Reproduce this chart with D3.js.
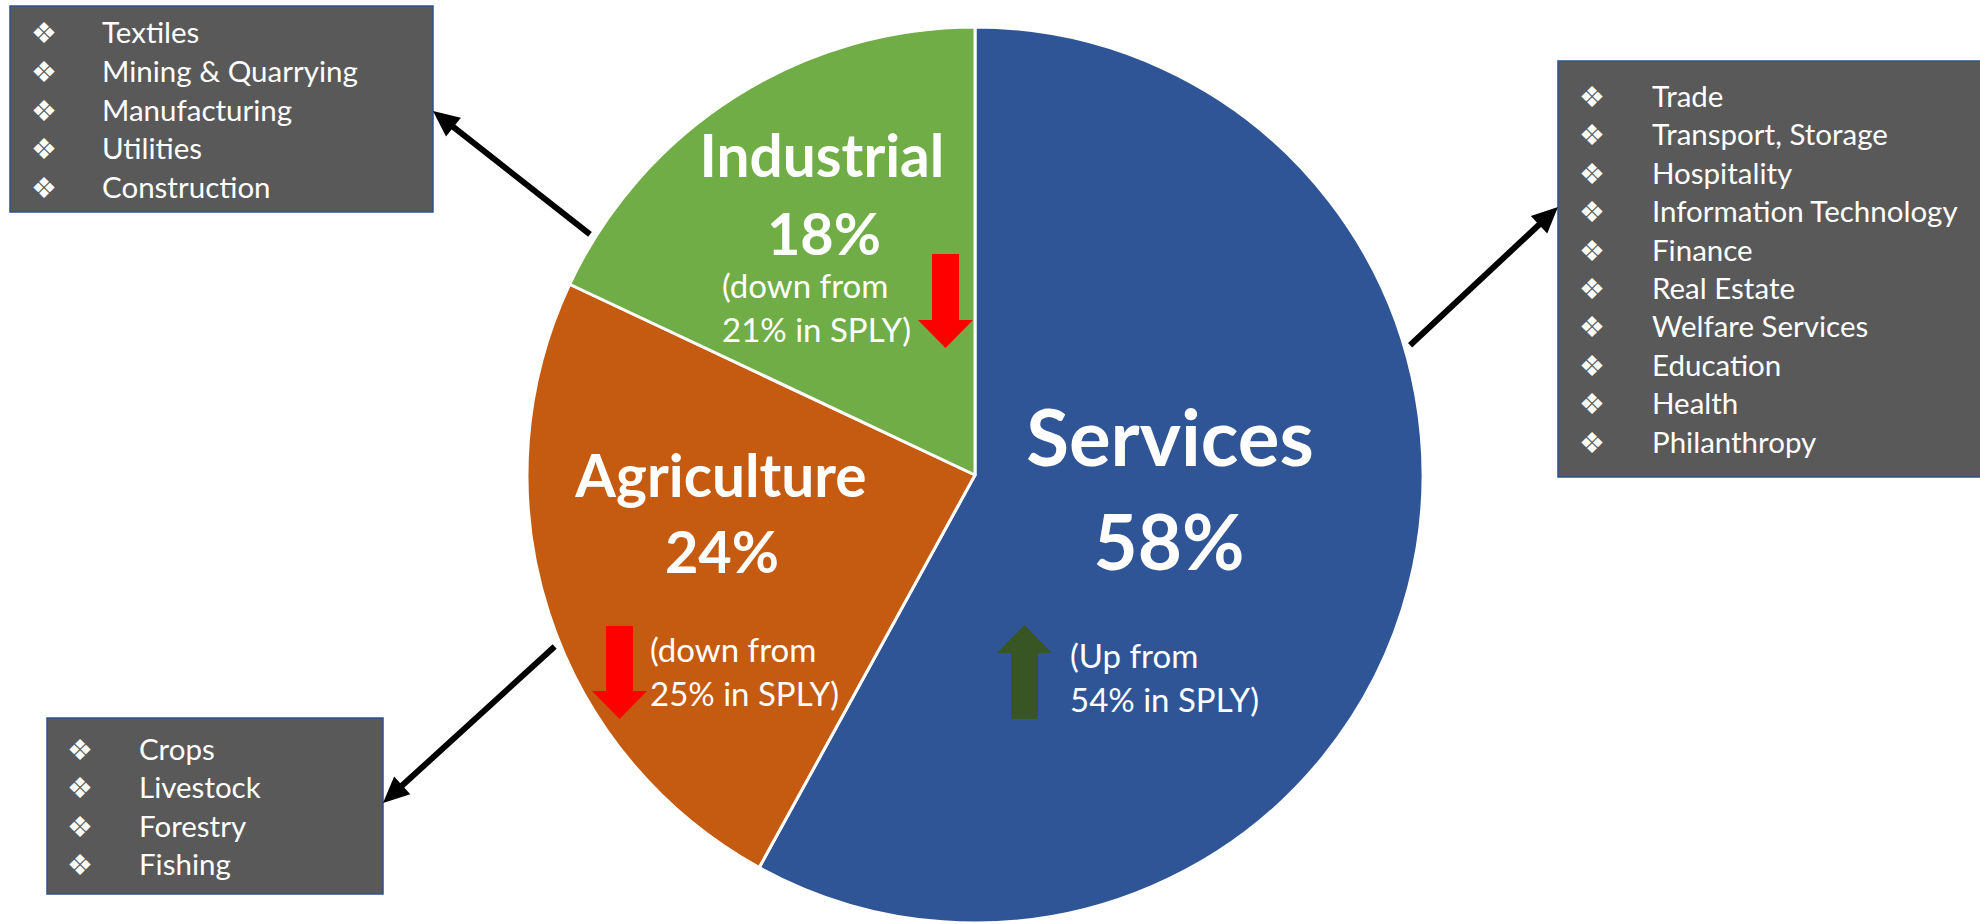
<!DOCTYPE html>
<html>
<head>
<meta charset="utf-8">
<script src="https://cdn.jsdelivr.net/npm/d3@7"></script>
<style>
  html, body { margin: 0; padding: 0; background: #fff; }
  svg { display: block; }
</style>
</head>
<body>
<div id="chart"></div>
<script>
// Sector shares (current vs same period last year)
const sectors = ["Services", "Agriculture", "Industrial"];
const shares = [58, 24, 18];
const splyShares = [54, 25, 21];

// Sub-sector lists shown in the call-out boxes
const servicesItems = ["Trade", "Transport, Storage", "Hospitality", "Information Technology", "Finance",
    "Real Estate", "Welfare Services", "Education", "Health", "Philanthropy"];
const industrialItems = ["Textiles", "Mining & Quarrying", "Manufacturing", "Utilities", "Construction"];
const agricultureItems = ["Crops", "Livestock", "Forestry", "Fishing"];

const width = 1980, height = 924;
const cx = 975, cy = 475, radius = 448;
const fontFamily = "Lato, 'Open Sans', sans-serif";
const fs = 0.93; // Lato is a bit wider than Calibri

const colors = { Services: "#2F5597", Agriculture: "#C55A11", Industrial: "#70AD47" };

// Layout of labels, call-outs and arrows for each sector
const layout = {
    Services: {
        name: [1170, 466, 84], pct: [1169, 570, 82], note: [1070, 668],
        trend: { x: 1024.5, top: 625, bottom: 719 },
        box: { x: 1558, y: 61, w: 440, h: 416, bx: 34, tx: 94, ty: 46, step: 38.4, items: servicesItems },
        callout: { angle: 73.4, tip: [1558, 207] }
    },
    Agriculture: {
        name: [721, 497, 63], pct: [722, 573, 62], note: [650, 662],
        trend: { x: 619.5, top: 626, bottom: 719 },
        box: { x: 47, y: 718, w: 336, h: 176, bx: 33, tx: 92, ty: 42, step: 38.3, items: agricultureItems },
        callout: { angle: 247.8, tip: [383, 803] }
    },
    Industrial: {
        name: [822, 177, 63], pct: [824, 255, 62], note: [722, 298],
        trend: { x: 945.5, top: 254, bottom: 348 },
        box: { x: 10, y: 6, w: 423, h: 206, bx: 34, tx: 92, ty: 37, step: 38.75, items: industrialItems },
        callout: { angle: 302, tip: [433, 111] }
    }
};

const svg = d3.select("#chart")
    .append("svg")
    .attr("width", width)
    .attr("height", height)
    .style("font-family", fontFamily);

const data = sectors.map((s, i) => ({ sector: s, share: shares[i], sply: splyShares[i] }));

const pie = d3.pie().sort(null).value(d => d.share);
const arc = d3.arc().innerRadius(0).outerRadius(radius);

const pieG = svg.append("g").attr("transform", `translate(${cx},${cy})`);

pieG.selectAll("path.slice")
    .data(pie(data))
    .enter()
    .append("path")
    .attr("class", "slice")
    .attr("d", arc)
    .attr("fill", d => colors[d.data.sector])
    .attr("stroke", "#fff")
    .attr("stroke-width", 3)
    .attr("stroke-linejoin", "round");

// Sector labels
data.forEach(function(d) {
    const L = layout[d.sector];

    svg.append("text")
        .attr("x", L.name[0]).attr("y", L.name[1])
        .attr("text-anchor", "middle")
        .attr("fill", "#fff")
        .style("font-weight", "bold")
        .style("font-size", (L.name[2] * fs) + "px")
        .text(d.sector);

    svg.append("text")
        .attr("x", L.pct[0]).attr("y", L.pct[1])
        .attr("text-anchor", "middle")
        .attr("fill", "#fff")
        .style("font-weight", "bold")
        .style("font-size", (L.pct[2] * fs) + "px")
        .text(d.share + "%");

    const up = d.share > d.sply;
    const note = svg.append("text")
        .attr("x", L.note[0]).attr("y", L.note[1])
        .attr("fill", "#fff")
        .style("font-size", "33px");
    note.append("tspan").attr("x", L.note[0]).text(up ? "(Up from" : "(down from");
    note.append("tspan").attr("x", L.note[0]).attr("dy", 44).text(d.sply + "% in SPLY)");

    // Trend arrow: shaft 27px, head 55px wide, 28px long
    const t = L.trend, sw = 13.5, hw = 27.5, hl = 28;
    let pts;
    if (up) {
        pts = [[t.x, t.top], [t.x + hw, t.top + hl], [t.x + sw, t.top + hl], [t.x + sw, t.bottom],
               [t.x - sw, t.bottom], [t.x - sw, t.top + hl], [t.x - hw, t.top + hl]];
    } else {
        pts = [[t.x - sw, t.top], [t.x + sw, t.top], [t.x + sw, t.bottom - hl], [t.x + hw, t.bottom - hl],
               [t.x, t.bottom], [t.x - hw, t.bottom - hl], [t.x - sw, t.bottom - hl]];
    }
    svg.append("path")
        .attr("d", d3.line()(pts) + "Z")
        .attr("fill", up ? "#375623" : "#FF0000");
});

// Call-out boxes
data.forEach(function(d) {
    const B = layout[d.sector].box;
    const box = svg.append("g").attr("transform", `translate(${B.x},${B.y})`);

    box.append("rect")
        .attr("width", B.w)
        .attr("height", B.h)
        .attr("fill", "#595959")
        .attr("stroke", "#2F528F")
        .attr("stroke-width", 1.5);

    const rows = box.selectAll(".row")
        .data(B.items)
        .enter()
        .append("g")
        .attr("class", "row")
        .attr("transform", (item, i) => `translate(0,${B.ty + i * B.step})`);

    rows.append("text")
        .attr("x", B.bx)
        .attr("y", 0)
        .attr("text-anchor", "middle")
        .attr("fill", "#fff")
        .style("font-family", "'DejaVu Sans', sans-serif")
        .style("font-size", "29px")
        .text("\u2756");

    rows.append("text")
        .attr("x", B.tx)
        .attr("fill", "#fff")
        .style("font-size", "29.5px")
        .text(item => item);
});

// Call-out arrows from the pie edge to each box
data.forEach(function(d) {
    const C = layout[d.sector].callout;
    const a = C.angle * Math.PI / 180;
    const tail = [cx + (radius + 6) * Math.sin(a), cy - (radius + 6) * Math.cos(a)];
    const tip = C.tip;
    const len = Math.hypot(tip[0] - tail[0], tip[1] - tail[1]);
    const ux = (tip[0] - tail[0]) / len, uy = (tip[1] - tail[1]) / len;
    const nx = -uy, ny = ux;
    const headLen = 26, headHalf = 12;

    svg.append("line")
        .attr("x1", tail[0]).attr("y1", tail[1])
        .attr("x2", tip[0] - ux * 14).attr("y2", tip[1] - uy * 14)
        .attr("stroke", "#000")
        .attr("stroke-width", 6);

    const bx = tip[0] - ux * headLen, by = tip[1] - uy * headLen;
    svg.append("path")
        .attr("d", `M${tip[0]},${tip[1]}L${bx + nx * headHalf},${by + ny * headHalf}L${bx - nx * headHalf},${by - ny * headHalf}Z`)
        .attr("fill", "#000");
});
</script>
</body>
</html>
